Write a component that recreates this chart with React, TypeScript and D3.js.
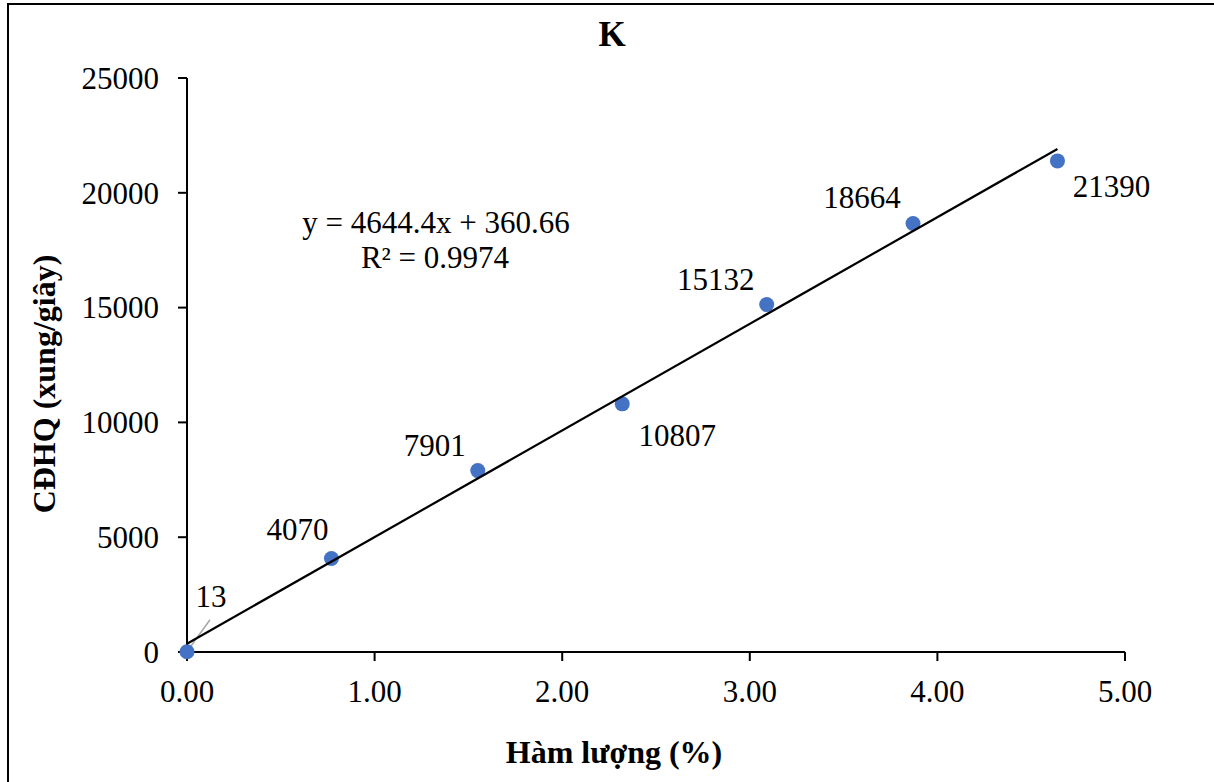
import React from "react";
import * as d3 from "d3";

const title = "K";
const xAxisTitle = "Hàm lượng (%)";
const yAxisTitle = "CĐHQ (xung/giây)";
const concentrations = [0, 0.77, 1.55, 2.32, 3.09, 3.87, 4.64];
const counts = [13, 4070, 7901, 10807, 15132, 18664, 21390];
const xTicks = [0, 1, 2, 3, 4, 5];
const yTicks = [0, 5000, 10000, 15000, 20000, 25000];
const slope = 4644.4;
const intercept = 360.66;
const rSquared = 0.9974;

// label placement offsets (layout, not data)
const labelOffsets: [number, number][] = [
  [24, -45],
  [-34, -19],
  [-43, -15],
  [55, 42],
  [-51, -15],
  [-51, -15],
  [54, 36],
];

export default function App() {
  const W = 1214;
  const H = 782;
  const x = d3.scaleLinear().domain([0, 5]).range([187, 1125]);
  const y = d3.scaleLinear().domain([0, 25000]).range([652, 78]);
  const font = "'Liberation Serif', 'Times New Roman', serif";
  const fs = 31;
  const xMin = d3.min(concentrations) as number;
  const xMax = d3.max(concentrations) as number;
  const line = d3
    .line<number>()
    .x((d) => x(d))
    .y((d) => y(slope * d + intercept));

  return (
    <svg
      width={W}
      height={H}
      style={{ position: "absolute", left: 0, top: 0, background: "#fff" }}
      fontFamily={font}
    >
      <rect x={0} y={0} width={W} height={H} fill="#fff" />
      <rect x={8} y={4} width={W + 20} height={H + 20} fill="none" stroke="#000" strokeWidth={2} />
      <text x={612} y={46} textAnchor="middle" fontSize={35} fontWeight="bold">
        {title}
      </text>
      {/* y axis */}
      <line x1={x(0)} x2={x(0)} y1={y(0)} y2={y(25000)} stroke="#000" strokeWidth={2} />
      {yTicks.map((t) => (
        <g key={"y" + t}>
          <line x1={x(0) - 9} x2={x(0)} y1={y(t)} y2={y(t)} stroke="#000" strokeWidth={2} />
          <text x={159} y={y(t)} dy="0.35em" textAnchor="end" fontSize={fs}>
            {t}
          </text>
        </g>
      ))}
      {/* x axis */}
      <line x1={x(0)} x2={x(5)} y1={y(0)} y2={y(0)} stroke="#000" strokeWidth={2} />
      {xTicks.map((t) => (
        <g key={"x" + t}>
          <line x1={x(t)} x2={x(t)} y1={y(0)} y2={y(0) + 9} stroke="#000" strokeWidth={2} />
          <text x={x(t)} y={702} textAnchor="middle" fontSize={fs}>
            {d3.format(".2f")(t)}
          </text>
        </g>
      ))}
      <text x={614} y={763} textAnchor="middle" fontSize={32} fontWeight="bold">
        {xAxisTitle}
      </text>
      <text
        transform={`translate(55, 384) rotate(-90)`}
        textAnchor="middle"
        fontSize={32}
        fontWeight="bold"
      >
        {yAxisTitle}
      </text>
      {/* leader line for first label */}
      <line
        x1={x(concentrations[0]) + 2}
        y1={y(counts[0]) - 3}
        x2={x(concentrations[0]) + 23}
        y2={y(counts[0]) - 32}
        stroke="#a6a6a6"
        strokeWidth={1.5}
      />
      {/* points */}
      {concentrations.map((c, i) => (
        <circle key={"p" + i} cx={x(c)} cy={y(counts[i])} r={7.5} fill="#4472C4" />
      ))}
      {/* trendline */}
      <path d={line([xMin, xMax]) || ""} fill="none" stroke="#000" strokeWidth={2.2} />
      {/* data labels */}
      {concentrations.map((c, i) => (
        <text
          key={"l" + i}
          x={x(c) + labelOffsets[i][0]}
          y={y(counts[i]) + labelOffsets[i][1]}
          textAnchor="middle"
          fontSize={fs}
        >
          {counts[i]}
        </text>
      ))}
      <text x={436} y={233} textAnchor="middle" fontSize={fs}>
        {`y = ${slope}x + ${intercept}`}
      </text>
      <text x={435} y={268} textAnchor="middle" fontSize={fs}>
        {`R² = ${rSquared}`}
      </text>
    </svg>
  );
}
